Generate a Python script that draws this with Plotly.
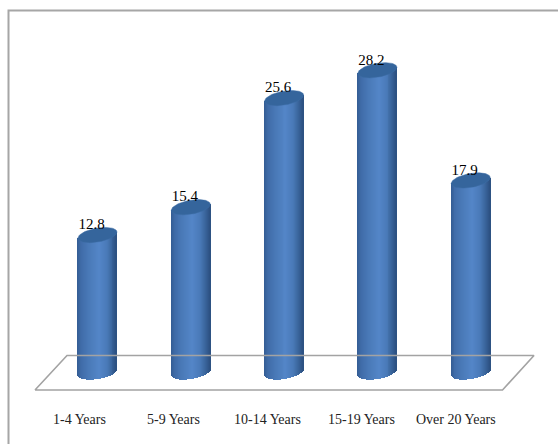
import numpy as np
import plotly.graph_objects as go

categories = ["1-4 Years", "5-9 Years", "10-14 Years", "15-19 Years", "Over 20 Years"]
values = [12.8, 15.4, 25.6, 28.2, 17.9]

W, H = 558, 444
PX_PER_CAT = 93.3       # horizontal pixels per category step
PX_PER_VAL = 10.7       # vertical pixels per value unit
X0_PX, Y0_PX = 97.5, 372.0   # pixel position of category 0, value 0

# Axis ranges spanning the whole page, so one category step and one value unit
# keep a constant pixel size.
x_range = [-X0_PX / PX_PER_CAT, (W - X0_PX) / PX_PER_CAT]
y_range = [-(H - Y0_PX) / PX_PER_VAL, Y0_PX / PX_PER_VAL]

RX = 19.5 / PX_PER_CAT   # cylinder half width
RY = 7.0 / PX_PER_VAL    # ellipse half height
TILT = 3.0 / PX_PER_VAL  # rise of the ellipse from centre to right edge
LABEL_SHIFT = -18 / PX_PER_CAT   # category labels sit left of their cylinders
LABEL_STEP = 94 / PX_PER_CAT


def shade(t):
    """Cylinder colour across the width, t from -1 (left) to 1 (right)."""
    stops_t = [-1.0, -0.8, -0.4, 0.1, 0.5, 0.8, 1.0]
    r = [52, 64, 74, 84, 74, 56, 44]
    g = [92, 108, 122, 134, 122, 98, 80]
    b = [148, 168, 184, 200, 184, 152, 128]
    return "rgb(%d,%d,%d)" % (np.interp(t, stops_t, r), np.interp(t, stops_t, g), np.interp(t, stops_t, b))


fig = go.Figure()

# Floor plate under the cylinders, placed in category/value units.
floor_x = [-62.5 / PX_PER_CAT, 405 / PX_PER_CAT, 436.5 / PX_PER_CAT, -30.5 / PX_PER_CAT, -62.5 / PX_PER_CAT]
floor_y = [-18 / PX_PER_VAL, -18 / PX_PER_VAL, 16.5 / PX_PER_VAL, 16.5 / PX_PER_VAL, -18 / PX_PER_VAL]
fig.add_trace(go.Scatter(x=floor_x, y=floor_y, mode="lines", line=dict(color="#a3a3a3", width=1.6),
                         hoverinfo="skip", showlegend=False))

# Cylinder bodies as narrow shaded strips running from the lower rim to the top centre line.
n = 40
ts = (np.arange(n) + 0.5) / n * 2 - 1
strip_w = 2 * RX / n * 1.25
for i, v in enumerate(values):
    xs = i + ts * RX
    bottom = TILT * ts - RY * np.sqrt(1 - ts ** 2)
    top = v + TILT * ts
    fig.add_trace(go.Bar(x=xs, y=top - bottom, base=bottom, width=strip_w,
                         marker=dict(color=[shade(t) for t in ts], line=dict(width=0)),
                         hoverinfo="skip", showlegend=False))

# Top caps of the cylinders.
theta = np.linspace(0, 2 * np.pi, 80)
for i, v in enumerate(values):
    fig.add_trace(go.Scatter(x=i + RX * np.cos(theta),
                             y=v + TILT * np.cos(theta) + RY * np.sin(theta),
                             mode="lines", fill="toself", fillcolor="#35659c",
                             line=dict(color="#3c6ca4", width=0.5),
                             hoverinfo="skip", showlegend=False))

# Value labels above each cylinder.
fig.add_trace(go.Scatter(x=[i - 6 / PX_PER_CAT for i in range(len(values))],
                         y=[v + 2 / PX_PER_VAL for v in values],
                         mode="text", text=["%.1f" % v for v in values],
                         textposition="top center", cliponaxis=False,
                         textfont=dict(family="Liberation Serif", size=15, color="#000000"),
                         hoverinfo="skip", showlegend=False))

fig.update_layout(
    width=W, height=H,
    margin=dict(l=0, r=0, t=0, b=0),
    paper_bgcolor="white", plot_bgcolor="white",
    barmode="overlay", bargap=0,
    showlegend=False,
    xaxis=dict(range=x_range, showgrid=False, zeroline=False, showline=False,
               showticklabels=False, fixedrange=True),
    yaxis=dict(range=y_range, showgrid=False, zeroline=False, showline=False,
               showticklabels=False, fixedrange=True),
    # Open frame: down the left side and across the top to the page edge.
    shapes=[dict(type="path", xref="paper", yref="paper",
                 path="M %f,0 L %f,%f L 1,%f" % (8.5 / W, 8.5 / W, 1 - 10.5 / H, 1 - 10.5 / H),
                 line=dict(color="#a6a6a6", width=2))],
    annotations=[dict(x=i * LABEL_STEP + LABEL_SHIFT, xref="x", y=1 - 419.5 / H, yref="paper",
                      text=c, showarrow=False, xanchor="center", yanchor="middle",
                      font=dict(family="Liberation Serif", size=14, color="#222222"))
                 for i, c in enumerate(categories)],
)

fig.write_html("out.html", config=dict(displayModeBar=False))
